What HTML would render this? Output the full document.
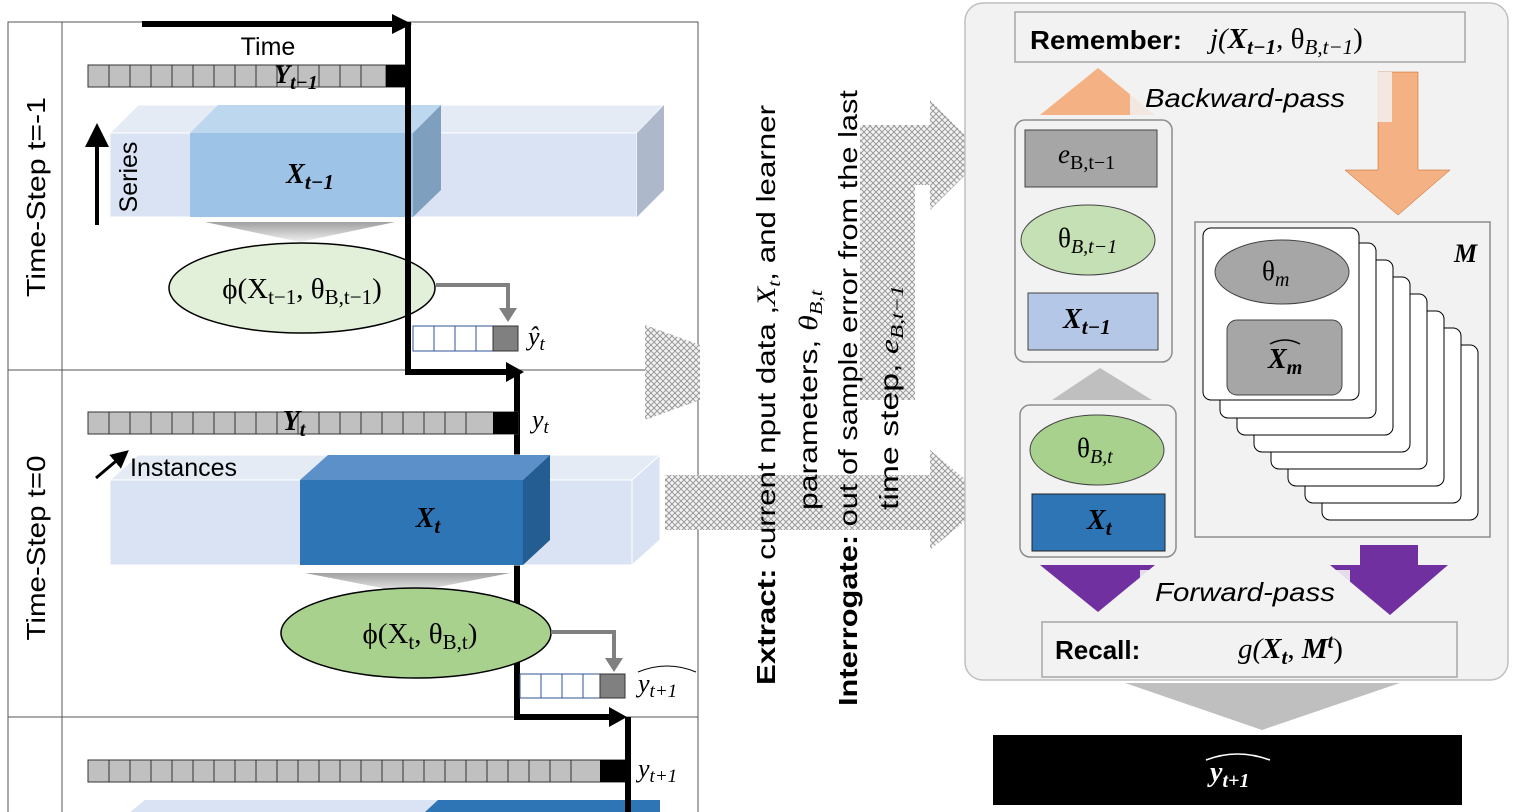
<!DOCTYPE html>
<html><head><meta charset="utf-8"><style>
body{margin:0;background:#fff}
svg{display:block;font-family:"Liberation Sans",sans-serif}
.m{font-family:"Liberation Serif",serif}
</style></head><body>
<svg width="1517" height="812" viewBox="0 0 1517 812">
<defs>
<pattern id="h" width="6" height="6" patternUnits="userSpaceOnUse">
<rect width="6" height="6" fill="#f4f4f4"/>
<path d="M0 0L6 6M6 0L0 6" stroke="#9a9a9a" stroke-width="1"/>
</pattern>
<linearGradient id="tg" x1="0" y1="0" x2="0" y2="1"><stop offset="0" stop-color="#a0a0a0"/><stop offset="1" stop-color="#f0f0f0"/></linearGradient>
<marker id="ah" markerWidth="6" markerHeight="6" refX="3" refY="3" orient="auto" markerUnits="strokeWidth"><path d="M0 0L6 3L0 6z" fill="#000"/></marker>
</defs>

<rect x="8" y="22" width="690" height="800" fill="#fff" stroke="#555" stroke-width="1"/>
<line x1="62" y1="22" x2="62" y2="812" stroke="#555"/>
<line x1="8" y1="370" x2="698" y2="370" stroke="#555"/>
<line x1="8" y1="717" x2="698" y2="717" stroke="#555"/>
<text transform="translate(45,197) rotate(-90)" text-anchor="middle" font-size="26" textLength="200" lengthAdjust="spacingAndGlyphs">Time-Step t=-1</text>
<text transform="translate(45,548) rotate(-90)" text-anchor="middle" font-size="26" textLength="185" lengthAdjust="spacingAndGlyphs">Time-Step t=0</text>

<rect x="88" y="65" width="320" height="22" fill="#c0c0c0" stroke="#333"/>
<path d="M109 65v22M130 65v22M151 65v22M172 65v22M193 65v22M214 65v22M235 65v22M256 65v22M277 65v22M298 65v22M319 65v22M340 65v22M361 65v22M386 65v22" stroke="#333"/>
<rect x="386" y="65" width="22" height="22" fill="#000"/>
<text x="296" y="83" class="m" font-size="26" font-weight="bold" font-style="italic" text-anchor="middle">Y<tspan font-size="20" dy="6">t−1</tspan></text>
<text x="268" y="55" font-size="25" text-anchor="middle">Time</text>

<polygon points="110,133 138,105 664,105 637,133" fill="#e4ebf5" stroke="#fff"/>
<rect x="110" y="133" width="527" height="84" fill="#dae3f3" stroke="#fff"/>
<polygon points="637,133 664,105 664,190 637,217" fill="#adb9ca"/>
<polygon points="190,133 218,105 441,105 413,133" fill="#bdd7ee"/>
<rect x="190" y="133" width="223" height="84" fill="#9dc3e6"/>
<polygon points="413,133 441,105 441,190 413,217" fill="#7f9fbf"/>
<text x="310" y="183" class="m" font-size="28" font-weight="bold" font-style="italic" text-anchor="middle">X<tspan font-size="21" dy="6">t−1</tspan></text>
<line x1="97" y1="225" x2="97" y2="135" stroke="#000" stroke-width="4" marker-end="url(#ah)"/>
<text transform="translate(137,177) rotate(-90)" text-anchor="middle" font-size="25">Series</text>
<polygon points="205,222 395,222 300,242" fill="url(#tg)"/>

<ellipse cx="302" cy="288" rx="133" ry="45" fill="#e2efd9" stroke="#000" stroke-width="1.5"/>
<text x="302" y="298" class="m" font-size="29" text-anchor="middle">ϕ(X<tspan font-size="21" dy="6">t−1</tspan><tspan dy="-6">, θ</tspan><tspan font-size="21" dy="6">B,t−1</tspan><tspan dy="-6">)</tspan></text>
<path d="M436 285H508V312" fill="none" stroke="#808080" stroke-width="4"/>
<polygon points="499,308 517,308 508,322" fill="#808080"/>
<rect x="413" y="326" width="105" height="25" fill="#fff" stroke="#2f5597"/>
<path d="M434 326v25M455 326v25M476 326v25" stroke="#2f5597"/>
<rect x="493" y="326" width="25" height="25" fill="#808080" stroke="#333"/>
<text x="528" y="345" class="m" font-size="26" font-style="italic">ŷ<tspan font-size="19" dy="5">t</tspan></text>

<path d="M142 24H398" stroke="#000" stroke-width="6"/>
<polygon points="392,14 412,24 392,34" fill="#000"/>
<path d="M408 22V372H510" stroke="#000" stroke-width="6" fill="none"/>
<polygon points="506,362 524,372 506,382" fill="#000"/>
<path d="M517 372V717H615" stroke="#000" stroke-width="6" fill="none"/>
<polygon points="609,707 627,717 609,727" fill="#000"/>

<rect x="88" y="412" width="430" height="22" fill="#c0c0c0" stroke="#333"/>
<path d="M109 412v22M130 412v22M151 412v22M172 412v22M193 412v22M214 412v22M235 412v22M256 412v22M277 412v22M298 412v22M319 412v22M340 412v22M361 412v22M382 412v22M403 412v22M424 412v22M445 412v22M466 412v22" stroke="#333"/>
<rect x="493" y="412" width="25" height="22" fill="#000"/>
<text x="294" y="430" class="m" font-size="28" font-weight="bold" font-style="italic" text-anchor="middle">Y<tspan font-size="20" dy="6">t</tspan></text>
<text x="532" y="428" class="m" font-size="26" font-style="italic">y<tspan font-size="19" dy="5">t</tspan></text>
<line x1="96" y1="478" x2="122" y2="456" stroke="#000" stroke-width="3" marker-end="url(#ah)"/>

<polygon points="110,480 138,455 660,455 632,480" fill="#e4ebf5" stroke="#fff"/>
<rect x="110" y="480" width="522" height="85" fill="#dae3f3" stroke="#fff"/>
<polygon points="632,480 660,455 660,540 632,565" fill="#dae3f3" stroke="#fff"/>
<text x="130" y="476" font-size="25">Instances</text>
<polygon points="300,480 328,455 550,455 523,480" fill="#5b91c8"/>
<rect x="300" y="480" width="223" height="85" fill="#2e75b6"/>
<polygon points="523,480 550,455 550,540 523,565" fill="#245d92"/>
<text x="428" y="527" class="m" font-size="28" font-weight="bold" font-style="italic" text-anchor="middle">X<tspan font-size="21" dy="6">t</tspan></text>
<polygon points="305,573 510,573 408,593" fill="url(#tg)"/>

<ellipse cx="416" cy="633" rx="135" ry="45" fill="#a9d18e" stroke="#000" stroke-width="1.5"/>
<text x="420" y="643" class="m" font-size="29" text-anchor="middle">ϕ(X<tspan font-size="21" dy="6">t</tspan><tspan dy="-6">, θ</tspan><tspan font-size="21" dy="6">B,t</tspan><tspan dy="-6">)</tspan></text>
<path d="M551 632H614V660" fill="none" stroke="#808080" stroke-width="4"/>
<polygon points="605,658 623,658 614,672" fill="#808080"/>
<rect x="520" y="674" width="105" height="24" fill="#fff" stroke="#2f5597"/>
<path d="M541 674v24M562 674v24M583 674v24" stroke="#2f5597"/>
<rect x="600" y="674" width="25" height="24" fill="#808080" stroke="#333"/>
<text x="638" y="692" class="m" font-size="26" font-style="italic">y<tspan font-size="19" dy="5">t+1</tspan></text>
<path d="M638 672Q667 660 696 672" fill="none" stroke="#000"/>

<rect x="88" y="760" width="537" height="22" fill="#c0c0c0" stroke="#333"/>
<path d="M109 760v22M130 760v22M151 760v22M172 760v22M193 760v22M214 760v22M235 760v22M256 760v22M277 760v22M298 760v22M319 760v22M340 760v22M361 760v22M382 760v22M403 760v22M424 760v22M445 760v22M466 760v22M487 760v22M508 760v22M529 760v22M550 760v22M571 760v22" stroke="#333"/>
<rect x="600" y="760" width="25" height="22" fill="#000"/>
<text x="638" y="777" class="m" font-size="26" font-style="italic">y<tspan font-size="19" dy="5">t+1</tspan></text>
<polygon points="130,812 145,800 660,800 660,812" fill="#dae3f3"/>
<polygon points="425,812 438,800 660,800 660,812" fill="#2e75b6"/>
<path d="M628 717V812" stroke="#000" stroke-width="6"/>

<polygon points="645,325 700,345 700,400 645,420" fill="url(#h)"/>
<rect x="860" y="185" width="55" height="215" fill="url(#h)"/>
<polygon points="860,125 930,125 930,100 985,155 930,210 930,185 860,185" fill="url(#h)"/>
<polygon points="665,475 930,475 930,450 990,500 930,550 930,530 665,530" fill="url(#h)"/>

<text transform="translate(775,685) rotate(-90)" font-size="26" textLength="580" lengthAdjust="spacingAndGlyphs"><tspan font-weight="bold">Extract:</tspan> current nput data ,<tspan class="m" font-style="italic">X<tspan font-size="18" dy="5">t</tspan></tspan><tspan dy="-5">, and  learner</tspan></text>
<text transform="translate(817,510) rotate(-90)" font-size="26" textLength="220" lengthAdjust="spacingAndGlyphs">parameters, <tspan class="m" font-style="italic">θ<tspan font-size="18" dy="5">B,t</tspan></tspan></text>
<text transform="translate(857,706) rotate(-90)" font-size="26" textLength="616" lengthAdjust="spacingAndGlyphs"><tspan font-weight="bold">Interrogate:</tspan> out of sample error from the last</text>
<text transform="translate(898,510) rotate(-90)" font-size="26" textLength="225" lengthAdjust="spacingAndGlyphs">time step, <tspan class="m" font-style="italic">e<tspan font-size="18" dy="5">B,t−1</tspan></tspan></text>

<rect x="965" y="3" width="543" height="677" rx="18" fill="#f2f2f2" stroke="#bfbfbf" stroke-width="1.5"/>
<rect x="1015" y="12" width="450" height="50" fill="#f2f2f2" stroke="#a6a6a6" stroke-width="1.5"/>
<text x="1030" y="49" font-size="26" font-weight="bold" textLength="152" lengthAdjust="spacingAndGlyphs">Remember:</text>
<text x="1210" y="48" class="m" font-size="29" font-style="italic">j(<tspan font-weight="bold">X</tspan><tspan font-size="21" dy="6" font-weight="bold">t−1</tspan><tspan dy="-6" font-style="normal">, θ</tspan><tspan font-size="21" dy="6">B,t−1</tspan><tspan dy="-6" font-style="normal">)</tspan></text>

<polygon points="1040,115 1098,68 1155,115" fill="#f4b183"/>
<polygon points="1378,72 1418,72 1418,170 1450,170 1398,215 1345,170 1378,170" fill="#f4b183" stroke="#c55a11" stroke-width="0.5"/>
<rect x="1130" y="72" width="262" height="50" fill="#f2f2f2" opacity="0.85"/>
<text x="1245" y="107" font-size="26" font-style="italic" text-anchor="middle" textLength="200" lengthAdjust="spacingAndGlyphs">Backward-pass</text>

<rect x="1015" y="120" width="157" height="242" rx="10" fill="#f2f2f2" stroke="#8c8c8c" stroke-width="1.5"/>
<rect x="1025" y="130" width="132" height="57" fill="#a6a6a6" stroke="#444"/>
<text x="1058" y="163" class="m" font-size="27" font-style="italic">e<tspan font-size="20" dy="6" font-style="normal">B,t−1</tspan></text>
<ellipse cx="1088" cy="240" rx="67" ry="35" fill="#c5e0b4" stroke="#444"/>
<text x="1058" y="247" class="m" font-size="27">θ<tspan font-size="20" dy="6" font-style="italic">B,t−1</tspan></text>
<rect x="1028" y="293" width="130" height="57" fill="#b4c7e7" stroke="#444"/>
<text x="1063" y="328" class="m" font-size="28" font-weight="bold" font-style="italic">X<tspan font-size="21" dy="6">t−1</tspan></text>

<polygon points="1052,400 1100,368 1152,400" fill="#bfbfbf"/>

<rect x="1020" y="405" width="156" height="152" rx="10" fill="#f2f2f2" stroke="#8c8c8c" stroke-width="1.5"/>
<ellipse cx="1097" cy="450" rx="67" ry="35" fill="#a9d18e" stroke="#444"/>
<text x="1077" y="457" class="m" font-size="27">θ<tspan font-size="20" dy="6" font-style="italic">B,t</tspan></text>
<rect x="1032" y="494" width="133" height="57" fill="#2e75b6" stroke="#222"/>
<text x="1087" y="529" class="m" font-size="28" font-weight="bold" font-style="italic">X<tspan font-size="21" dy="6">t</tspan></text>

<rect x="1195" y="222" width="295" height="315" fill="#f2f2f2" stroke="#8c8c8c" stroke-width="1.5"/>
<text x="1454" y="262" class="m" font-size="26" font-weight="bold" font-style="italic">M</text>
<g fill="#fff" stroke="#000" stroke-width="1">
<rect x="1322" y="345" width="156" height="175" rx="8"/>
<rect x="1305" y="328" width="156" height="175" rx="8"/>
<rect x="1288" y="311" width="156" height="175" rx="8"/>
<rect x="1271" y="294" width="156" height="175" rx="8"/>
<rect x="1254" y="277" width="156" height="175" rx="8"/>
<rect x="1237" y="260" width="156" height="175" rx="8"/>
<rect x="1220" y="243" width="156" height="175" rx="8"/>
<rect x="1203" y="228" width="156" height="172" rx="8"/>
</g>
<ellipse cx="1282" cy="272" rx="67" ry="32" fill="#a6a6a6" stroke="#444"/>
<text x="1262" y="280" class="m" font-size="27">θ<tspan font-size="20" dy="6" font-style="italic">m</tspan></text>
<rect x="1227" y="320" width="115" height="75" rx="10" fill="#a6a6a6" stroke="#444"/>
<text x="1268" y="368" class="m" font-size="28" font-weight="bold" font-style="italic">X<tspan font-size="20" dy="6">m</tspan></text>
<path d="M1270 344Q1285 336 1300 344" fill="none" stroke="#000" stroke-width="1.5"/>

<polygon points="1040,565 1155,565 1098,612" fill="#7030a0"/>
<polygon points="1360,545 1418,545 1418,565 1448,565 1390,615 1330,565 1360,565" fill="#7030a0"/>
<rect x="1140" y="570" width="210" height="45" fill="#f2f2f2" opacity="0.9"/>
<text x="1245" y="601" font-size="26" font-style="italic" text-anchor="middle" textLength="180" lengthAdjust="spacingAndGlyphs">Forward-pass</text>

<rect x="1042" y="622" width="415" height="55" fill="#f2f2f2" stroke="#a6a6a6" stroke-width="1.5"/>
<text x="1055" y="659" font-size="26" font-weight="bold">Recall:</text>
<text x="1238" y="658" class="m" font-size="29" font-style="italic">g(<tspan font-weight="bold">X</tspan><tspan font-size="21" dy="6" font-weight="bold">t</tspan><tspan dy="-6" font-style="normal">, </tspan><tspan font-weight="bold">M</tspan><tspan font-size="20" dy="-10" font-weight="bold">t</tspan><tspan dy="10" font-style="normal">)</tspan></text>

<polygon points="1125,683 1400,683 1262,730" fill="#bfbfbf"/>
<rect x="993" y="735" width="469" height="70" fill="#000"/>
<text x="1210" y="781" class="m" font-size="28" font-weight="bold" font-style="italic" fill="#fff">y<tspan font-size="20" dy="6">t+1</tspan></text>
<path d="M1206 760Q1237 748 1270 760" fill="none" stroke="#fff" stroke-width="1.5"/>
</svg>
</body></html>
